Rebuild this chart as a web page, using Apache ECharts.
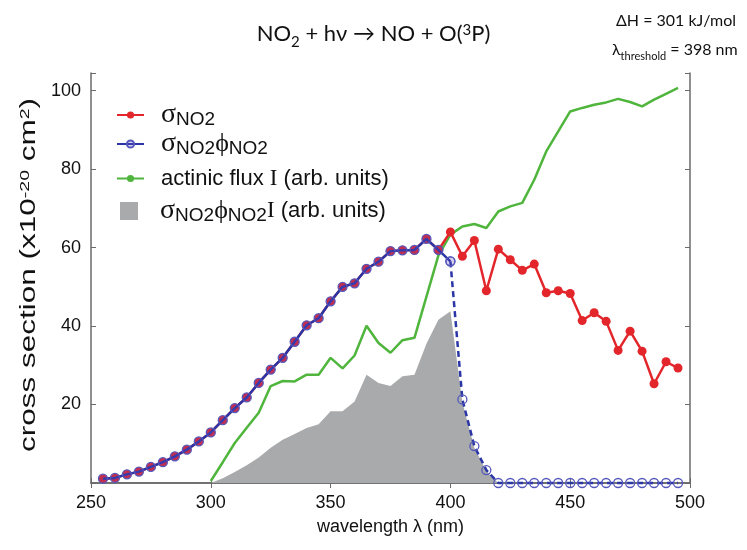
<!DOCTYPE html>
<html><head><meta charset="utf-8">
<script src="https://cdn.jsdelivr.net/npm/echarts@6/dist/echarts.min.js"></script>
<style>html,body{margin:0;padding:0;background:#fff}#c{width:747px;height:550px}</style>
</head><body><div id="c"></div>
<script>
// wavelength grid (nm) for the NO2 cross-section curves
const wavelengths = [255,260,265,270,275,280,285,290,295,300,305,310,315,320,325,330,335,340,345,350,355,360,365,370,375,380,385,390,395,400,405,410,415,420,425,430,435,440,445,450,455,460,465,470,475,480,485,490,495];
// sigma NO2 (x1e-20 cm2)
const sigmaNO2 = [1.1,1.3,2.2,2.9,4.1,5.3,6.8,8.5,10.6,12.9,16.0,19.1,21.8,25.5,28.9,31.9,36.0,40.2,42.0,46.3,50.0,50.9,54.6,56.4,59.1,59.3,59.4,62.2,59.4,64.0,57.8,61.8,49.0,59.6,56.9,54.2,55.8,48.5,49.0,48.3,41.4,43.4,41.2,33.8,38.7,33.6,25.3,30.9,29.3];
// sigma * phi NO2
const sigmaPhiNO2 = [1.1,1.3,2.2,2.9,4.1,5.3,6.8,8.5,10.6,12.9,16.0,19.1,21.8,25.5,28.9,31.9,36.0,40.2,42.0,46.3,50.0,50.9,54.6,56.4,59.1,59.3,59.4,62.2,59.4,56.5,21.3,9.4,3.3,0,0,0,0,0,0,0,0,0,0,0,0,0,0,0,0];
// actinic flux (arb. units)
const fluxWavelengths = [300,305,310,315,320,325,330,335,340,345,350,355,360,365,370,375,380,385,390,395,400,405,410,415,420,425,430,435,440,445,450,455,460,465,470,475,480,485,490,495];
const actinicFlux = [0.5,5.3,10.2,14.1,17.9,24.7,26.0,25.9,27.6,27.6,31.9,29.2,32.5,40.1,35.7,33.2,36.4,37.0,47.5,58.0,63.3,65.4,66.0,65.0,69.2,70.5,71.4,77.3,84.5,89.6,94.7,95.6,96.4,97.0,97.9,97.1,96.0,97.7,99.2,100.7];
// sigma*phi*I product (arb. units)
const productWavelengths = [300,305,310,315,320,325,330,335,340,345,350,355,360,365,370,375,380,385,390,395,400,405,410,415,420];
const productValues = [0,1.2,2.8,4.5,6.5,9.0,11.0,12.5,14.0,15.0,18.3,18.3,20.8,27.6,25.5,24.7,27.2,27.6,35.5,41.6,43.8,20.5,9.0,3.0,0];
const xTicks = [250,300,350,400,450,500];
const yTicks = [20,40,60,80,100];

const pairs = (xs, ys) => xs.map((x, i) => [x, ys[i]]);
const red = '#e3262b', blue = '#2b36a6', blueMk = '#5558bb', green = '#4fb53c', grey = '#a9aaab';

const sPhiSolid = pairs(wavelengths, sigmaPhiNO2).filter(p => p[0] <= 400);
const sPhiDash = pairs(wavelengths, sigmaPhiNO2).filter(p => p[0] >= 400);

const N1 = 'σNO2', N2 = 'σNO2φNO2', N3 = 'actinic flux I (arb. units)', N4 = 'σNO2φNO2I (arb. units)';
const legendRich = {};
legendRich[N1] = '{s|σ}{n|NO2}';
legendRich[N2] = '{s|σ}{n|NO2}{p|ϕ}{n|NO2}';
legendRich[N3] = '{t|actinic flux }{i|I}{t| (arb. units)}';
legendRich[N4] = '{s|σ}{n|NO2}{p|ϕ}{n|NO2}{i|I}{t| (arb. units)}';

const SANS = 'Liberation Sans, Arial, sans-serif';
const SERIF = 'Liberation Serif, DejaVu Serif, serif';
const TITLEF = 'Lato, Open Sans, sans-serif';
const rich = {
  s: { fontFamily: SERIF, fontSize: 28, color: '#111' },
  n: { fontFamily: SANS, fontSize: 19, color: '#111', verticalAlign: 'bottom' },
  p: { fontFamily: SERIF, fontSize: 26, color: '#111' },
  t: { fontFamily: SANS, fontSize: 22, color: '#111' },
  i: { fontFamily: SERIF, fontSize: 23, color: '#111' }
};
const lineLegend = (name, top) => ({ orient: 'vertical', left: 111, top, itemWidth: 27, itemHeight: 9,
  data: [name], formatter: n => legendRich[n], textStyle: { padding: [0,0,0,12], rich } });

const chart = echarts.init(document.getElementById('c'));
const axisGrey = '#6a6a6a';
chart.setOption({
  animation: false,
  backgroundColor: '#fff',
  title: [
    { text: '{a|NO}{b|2}{a| + hν → NO + O(}{c|3}{a|P)}', left: 'center', top: 18,
      textStyle: { fontWeight: 'normal', rich: {
        a: { fontFamily: TITLEF, fontSize: 22, fontWeight: 'normal', color: '#111' },
        b: { fontFamily: TITLEF, fontSize: 15, fontWeight: 'normal', color: '#111', verticalAlign: 'bottom', padding: [0,0,-5,0] },
        c: { fontFamily: TITLEF, fontSize: 15, fontWeight: 'normal', color: '#111', verticalAlign: 'top' }
      } } },
    { text: 'ΔH = 301 kJ/mol', left: 611, top: 8,
      textStyle: { fontFamily: TITLEF, fontSize: 16, fontWeight: 'normal', color: '#111' } },
    { text: '{a|λ}{b|threshold}{a| = 398 nm}', left: 607, top: 37,
      textStyle: { fontWeight: 'normal', rich: {
        a: { fontFamily: TITLEF, fontSize: 16, fontWeight: 'normal', color: '#111' },
        b: { fontFamily: TITLEF, fontSize: 11, fontWeight: 'normal', color: '#111', verticalAlign: 'bottom', padding: [0,0,-4,0] }
      } } }
  ],
  graphic: [{
    type: 'text', x: 29, y: 275, rotation: Math.PI / 2, scaleX: 1.5, scaleY: 1.05,
    style: { text: '{t|cross section (x10}{u|-20}{t| cm}{u|2}{t|)}', align: 'center', verticalAlign: 'middle',
      rich: {
        t: { fontFamily: SANS, fontSize: 21, fill: '#111' },
        u: { fontFamily: SANS, fontSize: 13, fill: '#111', verticalAlign: 'top' }
      } }
  }],
  legend: [
    lineLegend(N1, 96),
    lineLegend(N2, 125),
    lineLegend(N3, 162),
    { orient: 'vertical', left: 115, top: 192, itemWidth: 18, itemHeight: 18,
      data: [{ name: N4, icon: 'rect' }],
      formatter: n => legendRich[n], textStyle: { padding: [0,0,0,17], rich } }
  ],
  grid: { left: 91, right: 57, top: 73, bottom: 67, containLabel: false },
  xAxis: [
    { type: 'value', min: 250, max: 500, interval: 50, position: 'bottom',
      name: 'wavelength λ (nm)', nameLocation: 'middle', nameGap: 35,
      nameTextStyle: { fontFamily: SANS, fontSize: 18, color: '#111' },
      axisLine: { lineStyle: { color: axisGrey, width: 1.5 } },
      axisTick: { inside: true, length: 5, lineStyle: { color: axisGrey } },
      axisLabel: { fontFamily: SANS, fontSize: 18, color: '#111', margin: 11,
        formatter: v => xTicks.includes(v) ? String(v) : '' },
      splitLine: { show: false } },
    { type: 'value', min: 250, max: 500, interval: 50, position: 'top',
      axisLine: { lineStyle: { color: axisGrey, width: 1.5 } },
      axisTick: { inside: true, length: 5, lineStyle: { color: axisGrey } },
      axisLabel: { show: false }, splitLine: { show: false } }
  ],
  yAxis: [
    { type: 'value', min: 0, max: 104.5, interval: 20, position: 'left',
      axisLine: { show: true, lineStyle: { color: axisGrey, width: 1.5 } },
      axisTick: { show: true, inside: true, length: 5, lineStyle: { color: axisGrey } },
      axisLabel: { fontFamily: SANS, fontSize: 18, color: '#111', margin: 10,
        formatter: v => yTicks.includes(v) ? String(v) : '' },
      splitLine: { show: false } },
    { type: 'value', min: 0, max: 104.5, interval: 20, position: 'right',
      axisLine: { show: true, lineStyle: { color: axisGrey, width: 1.5 } },
      axisTick: { show: true, inside: true, length: 5, lineStyle: { color: axisGrey } },
      axisLabel: { show: false }, splitLine: { show: false } }
  ],
  series: [
    { name: N4, type: 'line', data: pairs(productWavelengths, productValues), symbol: 'none',
      lineStyle: { width: 0, color: grey }, itemStyle: { color: grey },
      areaStyle: { color: grey, opacity: 1 }, z: 1 },
    { name: N3, type: 'line', data: pairs(fluxWavelengths, actinicFlux), symbol: 'none',
      lineStyle: { width: 2.5, color: green }, itemStyle: { color: green }, z: 2 },
    { name: N1, type: 'line', data: pairs(wavelengths, sigmaNO2), symbol: 'circle', symbolSize: 9,
      lineStyle: { width: 2.5, color: red }, itemStyle: { color: red }, z: 3 },
    { name: N2, type: 'line', data: sPhiSolid, symbol: 'circle', symbolSize: 9, clip: false,
      lineStyle: { width: 2.5, color: blue },
      itemStyle: { color: 'rgba(90,70,190,0.25)', borderColor: blueMk, borderWidth: 1.3 }, z: 4 },
    { name: 'dash', type: 'line', data: sPhiDash, symbol: 'circle', symbolSize: 9, clip: false,
      lineStyle: { width: 2.5, color: blue, type: [6, 4] },
      itemStyle: { color: 'rgba(255,255,255,0)', borderColor: blueMk, borderWidth: 1.3 }, z: 4 }
  ]
});
</script></body></html>
